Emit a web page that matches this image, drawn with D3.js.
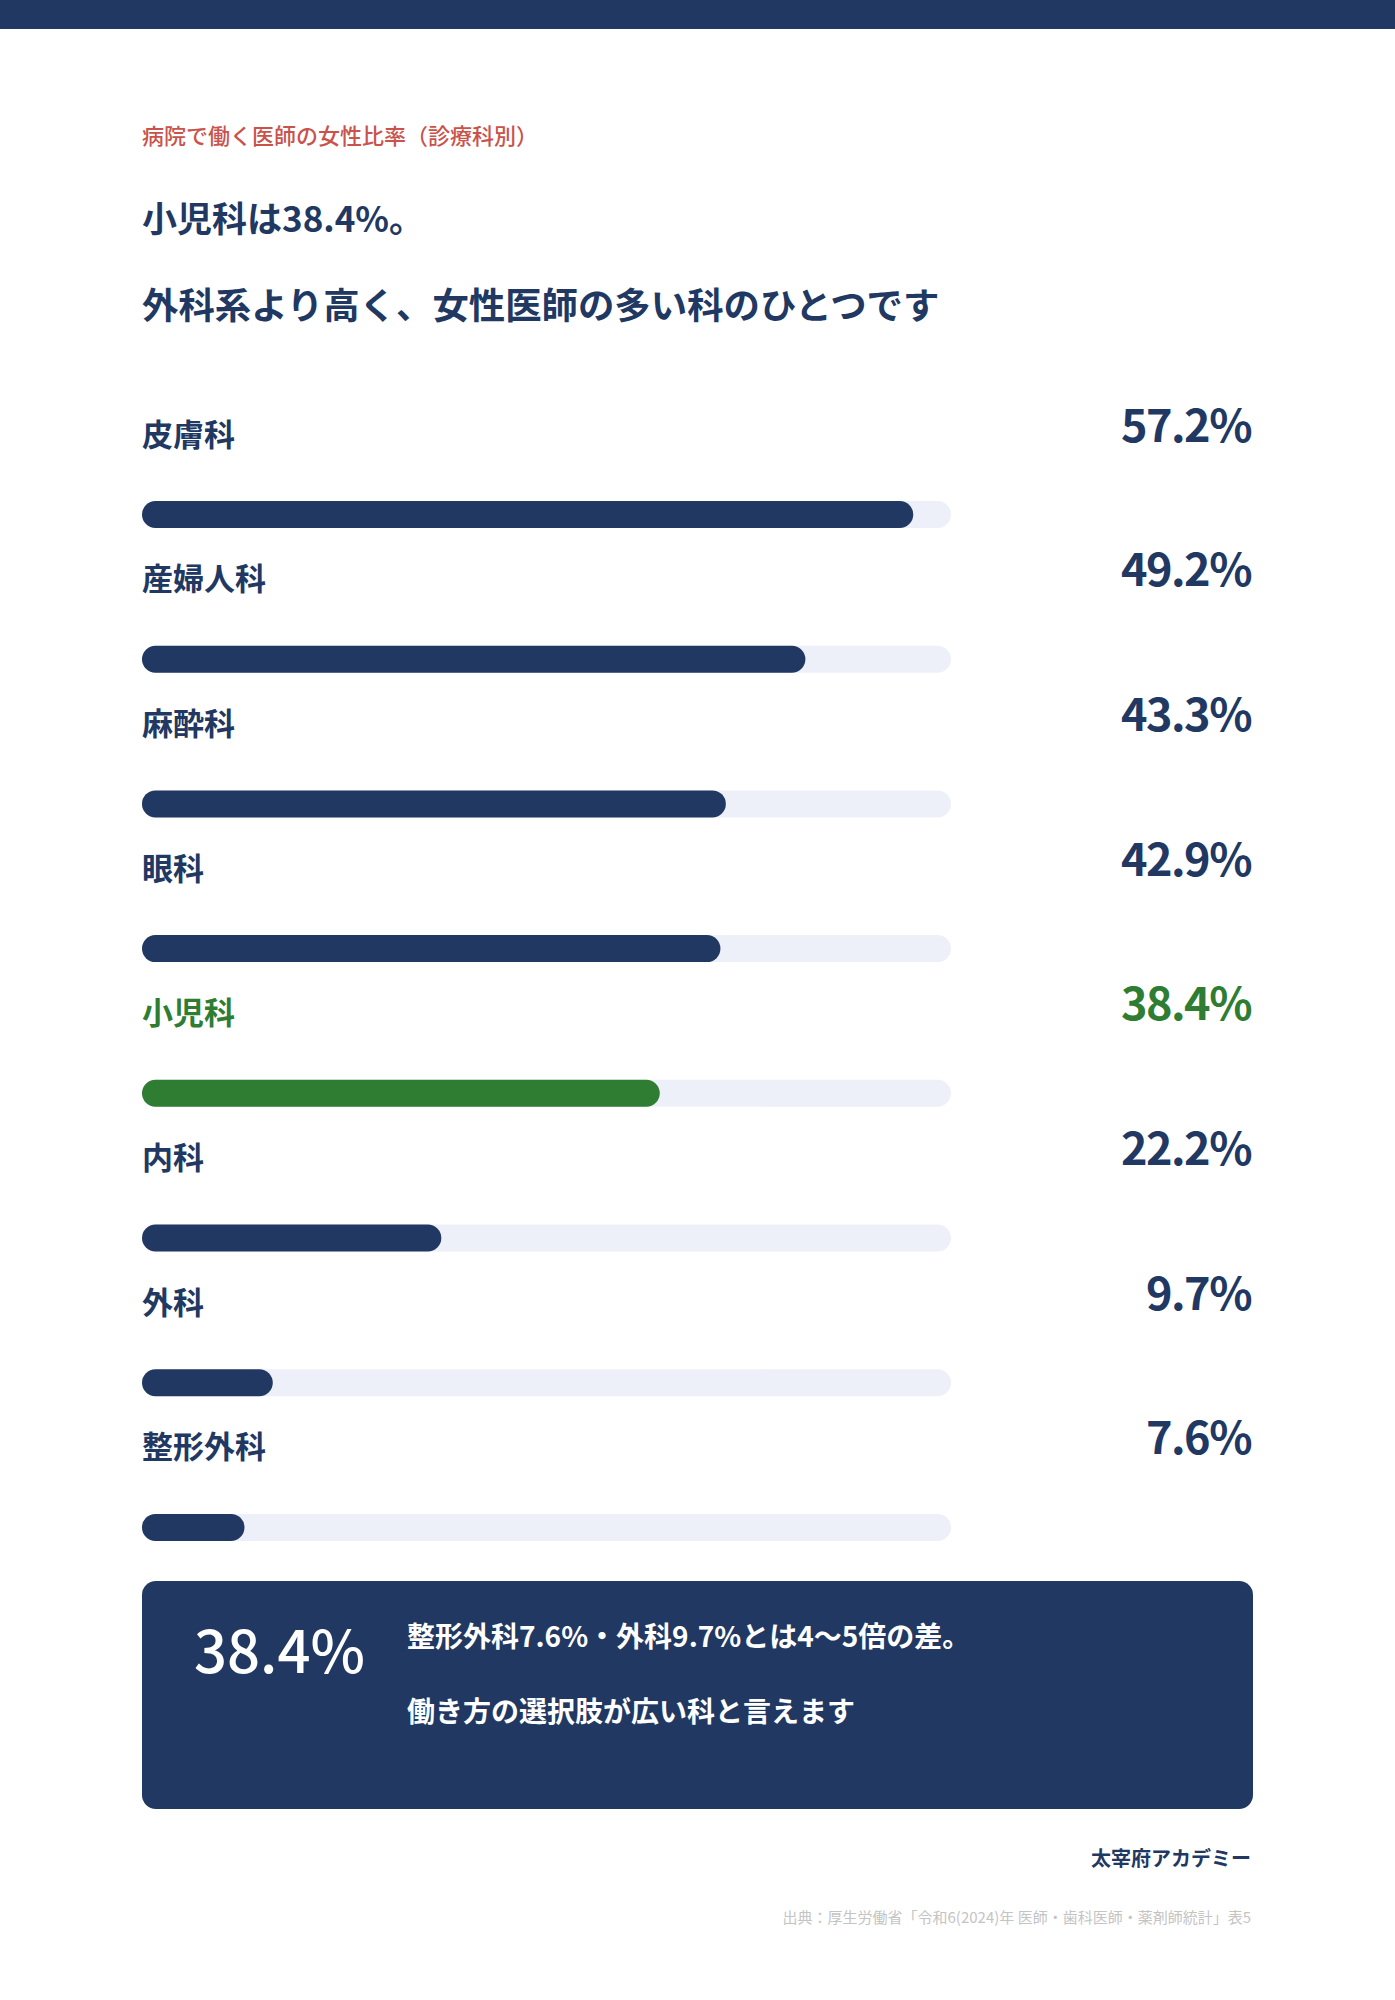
<!DOCTYPE html>
<html lang="ja">
<head>
    <meta charset="UTF-8">
    <title>病院で働く医師の女性比率（診療科別）</title>
    <style>
        body { margin: 0; background: #fff; }
        svg { display: block; font-family: "Noto Sans CJK JP", "Noto Sans", sans-serif; }
    </style>
</head>
<body>
    <div id="chart"></div>
    <script src="https://d3js.org/d3.v7.min.js"></script>
    <script>
        // data
        const departments = ["皮膚科", "産婦人科", "麻酔科", "眼科", "小児科", "内科", "外科", "整形外科"];
        const femaleRatio = [57.2, 49.2, 43.3, 42.9, 38.4, 22.2, 9.7, 7.6];
        const highlight = "小児科";
        const scaleMax = 60;

        const subtitle = "病院で働く医師の女性比率（診療科別）";
        const headline = ["小児科は38.4%。", "外科系より高く、女性医師の多い科のひとつです"];
        const calloutValue = "38.4%";
        const calloutLines = ["整形外科7.6%・外科9.7%とは4〜5倍の差。", "働き方の選択肢が広い科と言えます"];
        const brand = "太宰府アカデミー";
        const source = "出典：厚生労働省「令和6(2024)年 医師・歯科医師・薬剤師統計」表5";

        const rows = departments.map((d, i) => ({ name: d, value: femaleRatio[i] }));

        const W = 1395, H = 2000;
        const navy = "#213862", green = "#2e7d32", track = "#edf0f8";
        const left = 142, right = 1251;

        const svg = d3.select("#chart").append("svg")
            .attr("width", W)
            .attr("height", H);

        // top band
        svg.append("rect").attr("x", 0).attr("y", 0).attr("width", W).attr("height", 29).attr("fill", navy);

        svg.append("text")
            .attr("x", left).attr("y", 134)
            .attr("dominant-baseline", "central")
            .attr("fill", "#c9534b")
            .attr("font-size", 22)
            .attr("font-weight", 500)
            .text(subtitle);

        svg.selectAll(".headline")
            .data(headline)
            .join("text")
            .attr("class", "headline")
            .attr("x", left)
            .attr("y", (d, i) => 216 + i * 87)
            .attr("dominant-baseline", "central")
            .attr("fill", navy)
            .attr("font-size", (d, i) => i ? 36.4 : 35)
            .attr("font-weight", 700)
            .text(d => d);

        // scales
        const x = d3.scaleLinear().domain([0, scaleMax]).range([left, 951]);
        const y = d3.scaleBand().domain(departments).range([392, 392 + 8 * 144.7]);
        const barH = 27;

        const row = svg.selectAll(".row")
            .data(rows)
            .join("g")
            .attr("class", "row")
            .attr("transform", d => `translate(0,${y(d.name)})`);

        const colorOf = d => d.name === highlight ? green : navy;

        row.append("text")
            .attr("x", left)
            .attr("y", 40)
            .attr("dominant-baseline", "central")
            .attr("fill", colorOf)
            .attr("font-size", 31)
            .attr("font-weight", 700)
            .text(d => d.name);

        row.append("text")
            .attr("x", right)
            .attr("y", 30)
            .attr("text-anchor", "end")
            .attr("dominant-baseline", "central")
            .attr("fill", colorOf)
            .attr("font-size", 45)
            .attr("letter-spacing", -1.5)
            .attr("font-weight", 700)
            .text(d => d.value.toFixed(1) + "%");

        row.append("rect")
            .attr("x", x(0))
            .attr("y", 109)
            .attr("width", x(scaleMax) - x(0))
            .attr("height", barH)
            .attr("rx", barH / 2)
            .attr("fill", track);

        row.append("rect")
            .attr("x", x(0))
            .attr("y", 109)
            .attr("width", d => x(d.value) - x(0))
            .attr("height", barH)
            .attr("rx", barH / 2)
            .attr("fill", colorOf);

        // callout box
        svg.append("rect")
            .attr("x", left).attr("y", 1581)
            .attr("width", 1253 - left).attr("height", 228)
            .attr("rx", 14)
            .attr("fill", navy);

        svg.append("text")
            .attr("x", 194).attr("y", 1648)
            .attr("dominant-baseline", "central")
            .attr("fill", "#fff")
            .attr("font-size", 58)
            .attr("font-weight", 500)
            .text(calloutValue);

        svg.selectAll(".callout")
            .data(calloutLines)
            .join("text")
            .attr("class", "callout")
            .attr("x", 407)
            .attr("y", (d, i) => 1635 + i * 75)
            .attr("dominant-baseline", "central")
            .attr("fill", "#fff")
            .attr("font-size", 28)
            .attr("font-weight", 700)
            .text(d => d);

        svg.append("text")
            .attr("x", right).attr("y", 1857)
            .attr("text-anchor", "end")
            .attr("dominant-baseline", "central")
            .attr("fill", navy)
            .attr("font-size", 20)
            .attr("font-weight", 700)
            .text(brand);

        svg.append("text")
            .attr("x", right).attr("y", 1916)
            .attr("text-anchor", "end")
            .attr("dominant-baseline", "central")
            .attr("fill", "#c4c4c4")
            .attr("font-size", 15)
            .text(source);
    </script>
</body>
</html>
